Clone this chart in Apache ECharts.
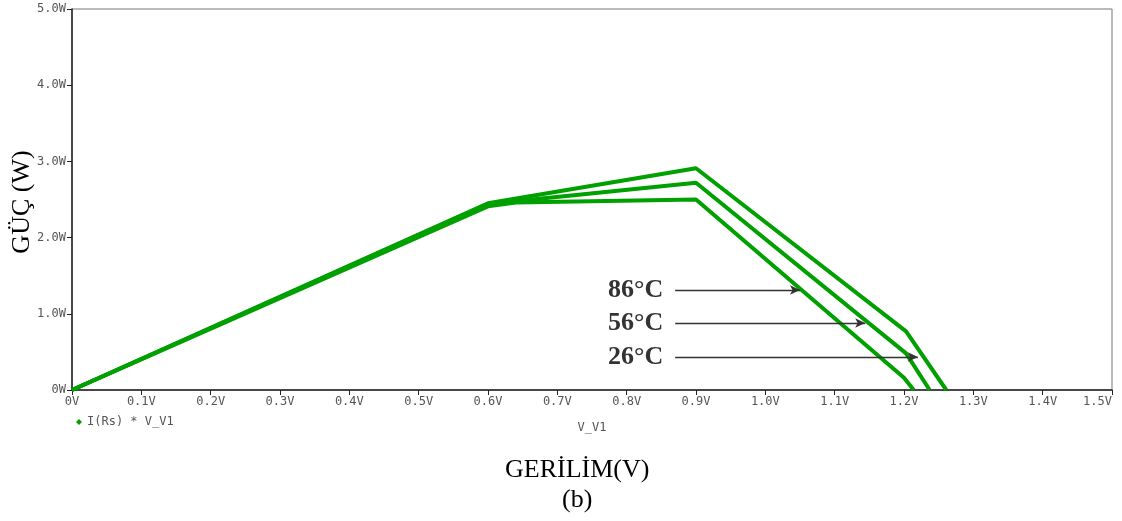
<!DOCTYPE html>
<html>
<head>
<meta charset="utf-8">
<script src="https://cdn.jsdelivr.net/npm/echarts@6/dist/echarts.min.js"></script>
<style>html,body{margin:0;padding:0;background:#fff}#c{width:1122px;height:521px}</style>
</head>
<body>
<div id="c"></div>
<script>
// ---- data ----
const xTicks = [0,0.1,0.2,0.3,0.4,0.5,0.6,0.7,0.8,0.9,1.0,1.1,1.2,1.3,1.4,1.5];
const yTicks = [0,1,2,3,4,5];
const v26 = [0, 0.6, 0.9, 1.203, 1.261];
const p26 = [0, 2.45, 2.91, 0.77, 0];
const v56 = [0, 0.6, 0.9, 1.203, 1.237];
const p56 = [0, 2.44, 2.72, 0.48, 0];
const v86 = [0, 0.6, 0.64, 0.9, 1.2, 1.214];
const p86 = [0, 2.41, 2.46, 2.50, 0.16, 0];
const tempLabels = ['86°C', '56°C', '26°C'];
const arrowStartV = [0.870, 0.870, 0.870];
const arrowEndV = [1.050, 1.144, 1.220];
const arrowP = [1.312, 0.879, 0.433];
const seriesName = 'I(Rs) * V_V1';
const yTitle = 'GÜÇ (W)';
const xTitle = 'GERİLİM(V)';
const subTitle = '(b)';

const pair = (xs, ys) => xs.map((x, i) => [x, ys[i]]);
const green = '#00a000';
const mono = 'DejaVu Sans Mono';

const lineSeries = [[v26,p26],[v56,p56],[v86,p86]].map(([xs, ys]) => ({
  name: seriesName, type: 'line', data: pair(xs, ys),
  showSymbol: false, symbol: 'diamond', animation: false,
  lineStyle: { color: green, width: 4 }, itemStyle: { color: green }
}));

const arrowSeries = {
  type: 'line', data: [], silent: true, animation: false,
  markLine: {
    silent: true, animation: false,
    symbol: ['none', 'arrow'], symbolSize: [7, 10],
    lineStyle: { color: '#333', width: 1.3, type: 'solid' },
    itemStyle: { color: '#000' },
    label: {
      show: true, position: 'start', distance: 12,
      fontFamily: 'Liberation Serif', fontWeight: 'bold', fontSize: 26, color: '#333'
    },
    data: tempLabels.map((t, i) => [
      { coord: [arrowStartV[i], arrowP[i]], label: { formatter: t } },
      { coord: [arrowEndV[i], arrowP[i]] }
    ])
  }
};

const chart = echarts.init(document.getElementById('c'), null, { renderer: 'canvas' });
chart.setOption({
  backgroundColor: '#fff',
  animation: false,
  grid: { left: 72, right: 10, top: 9, bottom: 131, show: true, borderColor: '#777', borderWidth: 1,
          containLabel: false, outerBoundsMode: 'none' },
  legend: {
    data: [{ name: seriesName, icon: 'diamond' }],
    left: 71, top: 411, itemWidth: 6, itemHeight: 6, itemGap: 6,
    textStyle: { fontFamily: mono, fontSize: 12, color: '#555' },
    selectedMode: false
  },
  xAxis: {
    type: 'value', min: 0, max: 1.5, interval: 0.1,
    name: 'V_V1', nameLocation: 'middle', nameGap: 32,
    nameTextStyle: { fontFamily: mono, fontSize: 12, color: '#555' },
    axisLine: { onZero: false, lineStyle: { color: '#222', width: 1.5 } },
    axisTick: { show: true, length: 5, lineStyle: { color: '#222' } },
    splitLine: { show: false },
    axisLabel: {
      fontFamily: mono, fontSize: 12, color: '#555', margin: 6, alignMaxLabel: 'right',
      formatter: v => (Math.abs(v) < 1e-9 ? '0V' : v.toFixed(1) + 'V')
    }
  },
  yAxis: {
    type: 'value', min: 0, max: 5, interval: 1,
    axisLine: { onZero: false, lineStyle: { color: '#222', width: 1.5 } },
    axisTick: { show: true, length: 5, lineStyle: { color: '#222' } },
    splitLine: { show: false },
    axisLabel: {
      fontFamily: mono, fontSize: 12, color: '#555', margin: 6,
      formatter: v => (Math.abs(v) < 1e-9 ? '0W' : v.toFixed(1) + 'W')
    }
  },
  graphic: [
    { type: 'text', x: 22, y: 202, rotation: Math.PI / 2,
      style: { text: yTitle, font: '26px "Liberation Serif"', fill: '#000', align: 'center', verticalAlign: 'middle' } },
    { type: 'text', left: 505, top: 457, style: { text: xTitle, font: '26px "Liberation Serif"', fill: '#000' } },
    { type: 'text', left: 562, top: 487, style: { text: subTitle, font: '26px "Liberation Serif"', fill: '#000' } }
  ],
  series: [...lineSeries, arrowSeries]
});
</script>
</body>
</html>
